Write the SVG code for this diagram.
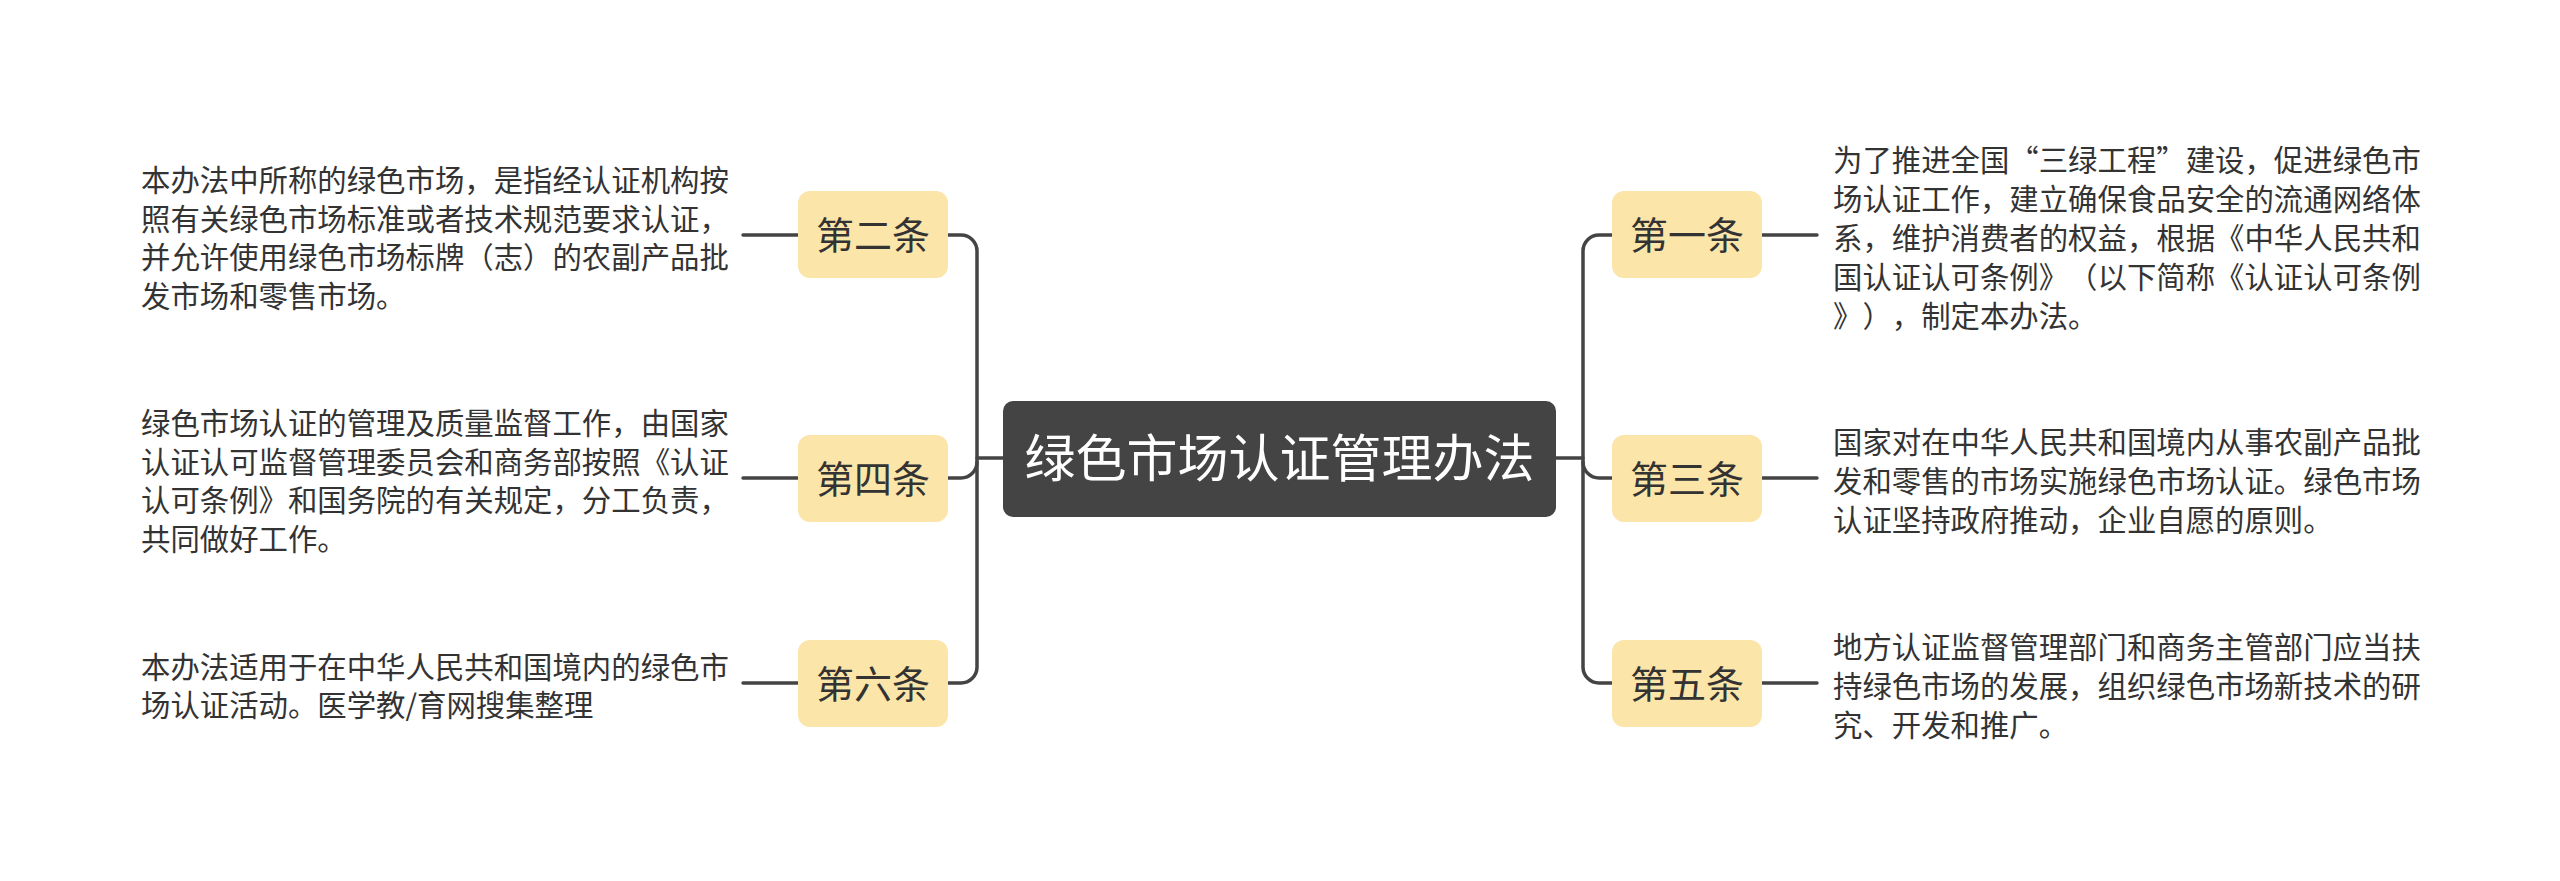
<svg xmlns="http://www.w3.org/2000/svg" width="2560" height="881" viewBox="0 0 2560 881">
<style>
.bg{fill:#ffffff}
.conn{fill:none;stroke:#444444;stroke-width:3.5;stroke-linecap:round}
.root{fill:#444444}
.rootText{font-family:"Noto Sans CJK SC","Noto Sans",sans-serif;font-size:51px;fill:#ffffff;text-anchor:middle}
.sub{fill:#FCE5A9}
.subText{font-family:"Noto Sans CJK SC","Noto Sans",sans-serif;font-size:38px;fill:#333333;text-anchor:middle}
.leaf{font-family:"Noto Sans CJK SC","Noto Sans",sans-serif;font-size:29.4px;fill:#333333;text-spacing-trim:space-all}
</style>
<rect class="bg" x="0" y="0" width="2560" height="881"/>
<g id="connectors">
  <path class="conn" d="M977,458 H1003"/>
  <path class="conn" d="M948,235 H961 A16 16 0 0 1 977,251 V667 A16 16 0 0 1 961,683 H948"/>
  <path class="conn" d="M948,478 H961 A16 16 0 0 0 977,462"/>
  <path class="conn" d="M743,235 H798"/>
  <path class="conn" d="M743,478 H798"/>
  <path class="conn" d="M743,683 H798"/>
  <path class="conn" d="M1556,458 H1583"/>
  <path class="conn" d="M1612,235 H1599 A16 16 0 0 0 1583,251 V667 A16 16 0 0 0 1599,683 H1612"/>
  <path class="conn" d="M1583,462 A16 16 0 0 0 1599,478 H1612"/>
  <path class="conn" d="M1762,235 H1817"/>
  <path class="conn" d="M1762,478 H1817"/>
  <path class="conn" d="M1762,683 H1817"/>
</g>
<g id="root">
  <rect class="root" x="1003" y="401" width="553" height="116" rx="10"/>
  <text class="rootText" x="1279.5" y="477">绿色市场认证管理办法</text>
</g>
<g id="node-2">
  <rect class="sub" x="798" y="191" width="150" height="87" rx="12"/>
  <text class="subText" x="873" y="248.5">第二条</text>
</g>
<g id="node-4">
  <rect class="sub" x="798" y="435" width="150" height="87" rx="12"/>
  <text class="subText" x="873" y="492.5">第四条</text>
</g>
<g id="node-6">
  <rect class="sub" x="798" y="640" width="150" height="87" rx="12"/>
  <text class="subText" x="873" y="697.5">第六条</text>
</g>
<g id="node-1">
  <rect class="sub" x="1612" y="191" width="150" height="87" rx="12"/>
  <text class="subText" x="1687" y="248.5">第一条</text>
</g>
<g id="node-3">
  <rect class="sub" x="1612" y="435" width="150" height="87" rx="12"/>
  <text class="subText" x="1687" y="492.5">第三条</text>
</g>
<g id="node-5">
  <rect class="sub" x="1612" y="640" width="150" height="87" rx="12"/>
  <text class="subText" x="1687" y="697.5">第五条</text>
</g>
<g id="leaf-2">
  <text class="leaf" x="141" y="190.8">本办法中所称的绿色市场，是指经认证机构按</text>
  <text class="leaf" x="141" y="229.6">照有关绿色市场标准或者技术规范要求认证，</text>
  <text class="leaf" x="141" y="268.4">并允许使用绿色市场标牌（志）的农副产品批</text>
  <text class="leaf" x="141" y="307.2">发市场和零售市场。</text>
</g>
<g id="leaf-4">
  <text class="leaf" x="141" y="433.8">绿色市场认证的管理及质量监督工作，由国家</text>
  <text class="leaf" x="141" y="472.6">认证认可监督管理委员会和商务部按照《认证</text>
  <text class="leaf" x="141" y="511.4">认可条例》和国务院的有关规定，分工负责，</text>
  <text class="leaf" x="141" y="550.2">共同做好工作。</text>
</g>
<g id="leaf-6">
  <text class="leaf" x="141" y="677.6">本办法适用于在中华人民共和国境内的绿色市</text>
  <text class="leaf" x="141" y="716.4">场认证活动。医学教/育网搜集整理</text>
</g>
<g id="leaf-1">
  <text class="leaf" x="1833" y="171.4">为了推进全国“三绿工程”建设，促进绿色市</text>
  <text class="leaf" x="1833" y="210.2">场认证工作，建立确保食品安全的流通网络体</text>
  <text class="leaf" x="1833" y="249">系，维护消费者的权益，根据《中华人民共和</text>
  <text class="leaf" x="1833" y="287.8">国认证认可条例》（以下简称《认证认可条例</text>
  <text class="leaf" x="1833" y="326.6">》），制定本办法。</text>
</g>
<g id="leaf-3">
  <text class="leaf" x="1833" y="453.2">国家对在中华人民共和国境内从事农副产品批</text>
  <text class="leaf" x="1833" y="492">发和零售的市场实施绿色市场认证。绿色市场</text>
  <text class="leaf" x="1833" y="530.8">认证坚持政府推动，企业自愿的原则。</text>
</g>
<g id="leaf-5">
  <text class="leaf" x="1833" y="658.2">地方认证监督管理部门和商务主管部门应当扶</text>
  <text class="leaf" x="1833" y="697">持绿色市场的发展，组织绿色市场新技术的研</text>
  <text class="leaf" x="1833" y="735.8">究、开发和推广。</text>
</g>
</svg>
